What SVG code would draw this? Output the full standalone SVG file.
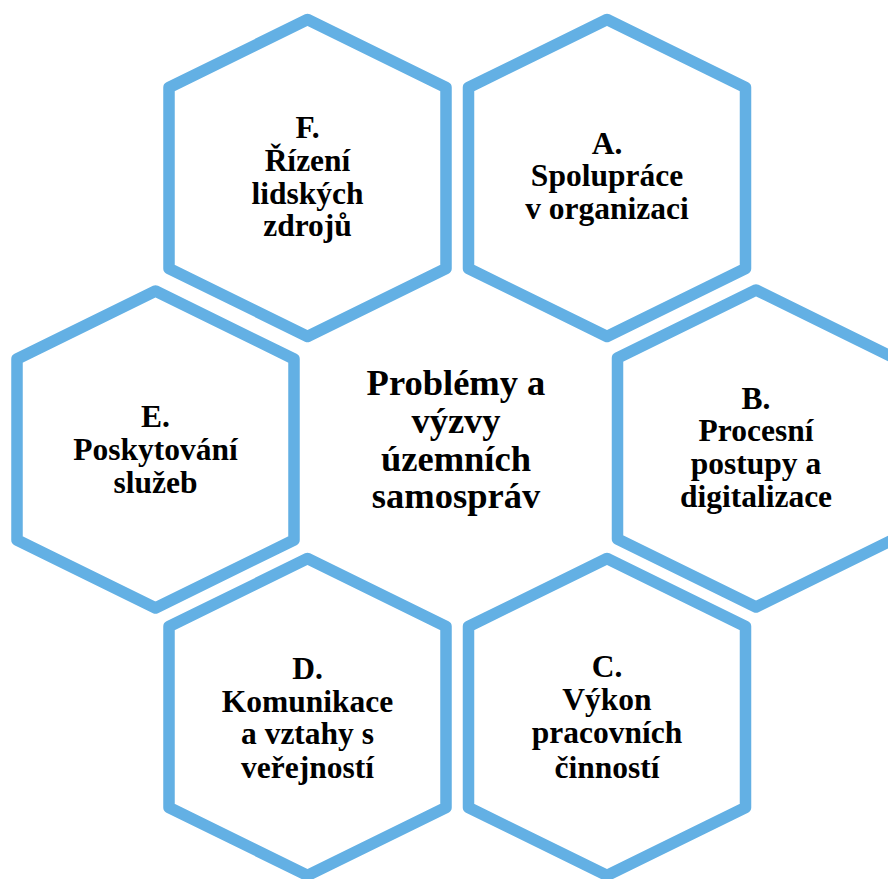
<svg xmlns="http://www.w3.org/2000/svg" xmlns:xlink="http://www.w3.org/1999/xlink" width="888" height="879" viewBox="0 0 888 879">
  <style>
    .hex { fill: #ffffff; stroke: #63b0e4; stroke-width: 11.5; stroke-linejoin: round; }
    .lbl { font-family: "Liberation Serif", "Times New Roman", serif; font-weight: bold; font-size: 31.5px; fill: #000000; text-anchor: middle; }
    .core { font-size: 36.5px; }
  </style>
  <defs>
    <!-- pointy-top hexagon centred on the origin -->
    <polygon id="hexShape" points="0,-158.5 138.5,-90.5 138.5,90.5 0,158.5 -138.5,90.5 -138.5,-90.5"/>
  </defs>
  <rect width="888" height="879" fill="#ffffff"/>

  <g id="node-F">
    <use xlink:href="#hexShape" href="#hexShape" class="hex" transform="translate(307.5,178)"/>
    <text class="lbl" x="307.5" y="137.5">F.</text>
    <text class="lbl" x="307.5" y="170.5">Řízení</text>
    <text class="lbl" x="307.5" y="203.5">lidských</text>
    <text class="lbl" x="307.5" y="236">zdrojů</text>
  </g>

  <g id="node-A">
    <use xlink:href="#hexShape" href="#hexShape" class="hex" transform="translate(607,178)"/>
    <text class="lbl" x="607" y="154">A.</text>
    <text class="lbl" x="607" y="186">Spolupráce</text>
    <text class="lbl" x="607" y="218.5">v organizaci</text>
  </g>

  <g id="node-E">
    <use xlink:href="#hexShape" href="#hexShape" class="hex" transform="translate(155.5,449.5)"/>
    <text class="lbl" x="155.5" y="427">E.</text>
    <text class="lbl" x="155.5" y="460">Poskytování</text>
    <text class="lbl" x="155.5" y="492.5">služeb</text>
  </g>

  <g id="node-B">
    <use xlink:href="#hexShape" href="#hexShape" class="hex" transform="translate(756,448.5)"/>
    <text class="lbl" x="756" y="408.5">B.</text>
    <text class="lbl" x="756" y="441">Procesní</text>
    <text class="lbl" x="756" y="473.5">postupy a</text>
    <text class="lbl" x="756" y="506.5">digitalizace</text>
  </g>

  <g id="node-D">
    <use xlink:href="#hexShape" href="#hexShape" class="hex" transform="translate(307.5,717)"/>
    <text class="lbl" x="307.5" y="678.5">D.</text>
    <text class="lbl" x="307.5" y="711.5">Komunikace</text>
    <text class="lbl" x="307.5" y="744">a vztahy s</text>
    <text class="lbl" x="307.5" y="777.5">veřejností</text>
  </g>

  <g id="node-C">
    <use xlink:href="#hexShape" href="#hexShape" class="hex" transform="translate(607,717)"/>
    <text class="lbl" x="607" y="677">C.</text>
    <text class="lbl" x="607" y="710">Výkon</text>
    <text class="lbl" x="607" y="743">pracovních</text>
    <text class="lbl" x="607" y="778">činností</text>
  </g>

  <g id="node-center">
    <text class="lbl core" x="456" y="395">Problémy a</text>
    <text class="lbl core" x="456" y="433">výzvy</text>
    <text class="lbl core" x="456" y="470.5">územních</text>
    <text class="lbl core" x="456" y="507.5">samospráv</text>
  </g>
</svg>
